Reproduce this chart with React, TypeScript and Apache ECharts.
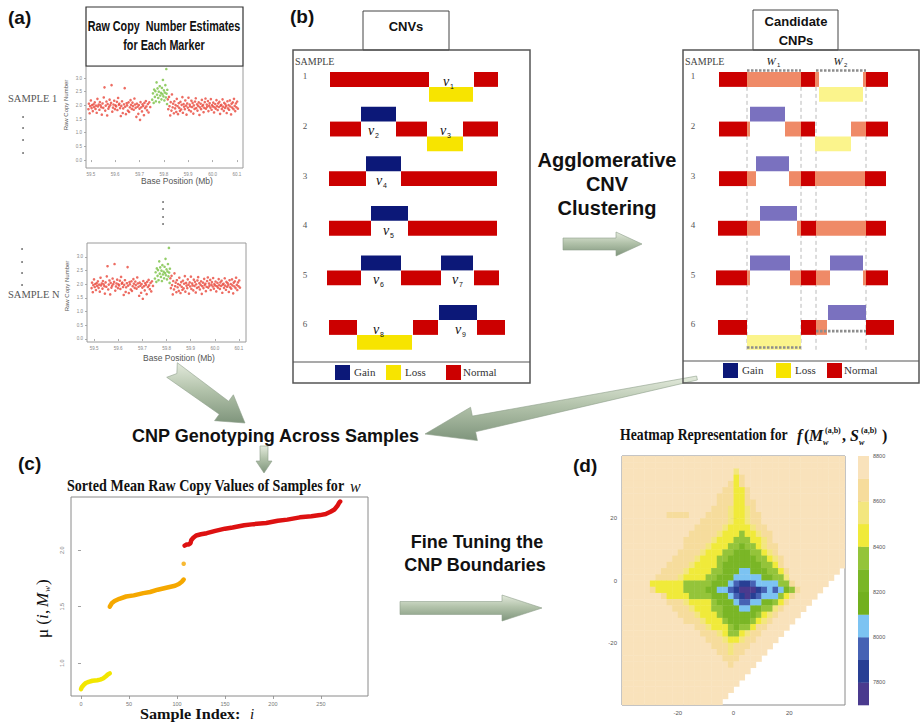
import React, { useEffect, useRef } from "react";
import * as echarts from "echarts";

const SANS = "'Liberation Sans', Arial, sans-serif";
const SERIF = "'Liberation Serif', 'Times New Roman', serif";

// ---------------- (a) raw copy number estimates ----------------
const markerTicksX = [59.5, 59.6, 59.7, 59.8, 59.9, 60.0, 60.1];
const markerTicksY = [0, 0.5, 1.0, 1.5, 2.0, 2.5, 3.0];
const markerNormal = [
  [59.490,1.86],[59.492,2.06],[59.495,1.71],[59.497,1.97],[59.500,2.18],[59.503,1.90],[59.505,2.01],[59.508,1.79],[59.511,2.04],[59.513,1.94],
  [59.516,2.11],[59.519,1.87],[59.521,1.99],[59.524,1.73],[59.527,2.24],[59.529,1.96],[59.532,2.03],[59.535,1.84],[59.537,2.12],[59.540,2.00],
  [59.543,1.93],[59.545,1.66],[59.548,2.07],[59.551,1.91],[59.553,2.29],[59.556,2.66],[59.559,1.81],[59.561,1.99],[59.564,2.14],[59.567,1.63],
  [59.569,2.05],[59.572,1.88],[59.575,1.95],[59.577,2.21],[59.580,2.01],[59.583,2.09],[59.585,2.74],[59.588,1.77],[59.591,1.92],[59.593,2.03],
  [59.596,2.17],[59.599,1.86],[59.601,2.00],[59.604,1.96],[59.607,2.13],[59.609,1.83],[59.612,2.27],[59.615,2.02],[59.617,2.06],[59.620,1.90],
  [59.623,1.61],[59.625,1.98],[59.628,2.15],[59.631,1.72],[59.633,1.89],[59.636,2.04],[59.639,2.63],[59.641,1.95],[59.644,1.68],[59.647,2.08],
  [59.649,2.00],[59.652,1.81],[59.655,2.11],[59.657,1.76],[59.660,1.93],[59.663,2.19],[59.665,2.02],[59.668,1.87],[59.671,2.10],[59.673,1.97],
  [59.676,1.84],[59.679,2.25],[59.681,2.03],[59.684,1.91],[59.687,1.58],[59.689,2.06],[59.692,1.95],[59.695,1.69],[59.697,2.01],[59.700,1.88],
  [59.702,1.47],[59.704,2.12],[59.707,1.93],[59.710,1.78],[59.712,2.04],[59.715,1.98],[59.718,1.64],[59.720,2.09],[59.723,1.90],[59.726,2.16],
  [59.728,1.96],[59.731,1.82],[59.734,2.05],[59.737,1.74],[59.740,2.11],[59.744,1.94],
  [59.816,2.22],[59.818,1.86],[59.821,2.31],[59.823,1.97],[59.826,1.63],[59.828,2.12],[59.831,1.81],[59.833,2.40],[59.836,1.93],[59.838,2.06],
  [59.841,1.71],[59.843,2.15],[59.846,1.89],[59.848,2.01],[59.851,1.76],[59.853,2.24],[59.856,1.97],[59.858,1.68],[59.861,2.08],[59.863,1.91],
  [59.866,1.80],[59.868,2.13],[59.871,1.85],[59.873,2.02],[59.876,2.30],[59.878,1.73],[59.881,2.05],[59.883,1.95],[59.886,1.86],[59.888,2.18],
  [59.891,1.99],[59.893,1.66],[59.896,2.07],[59.898,1.92],[59.901,2.28],[59.903,1.83],[59.906,2.03],[59.908,1.96],[59.911,1.78],[59.913,2.17],
  [59.916,1.94],[59.918,2.09],[59.921,1.70],[59.923,2.00],[59.926,1.87],[59.928,2.14],[59.931,2.26],[59.933,1.90],[59.936,2.04],[59.938,1.81],
  [59.941,1.98],[59.943,2.11],[59.946,1.65],[59.948,1.93],[59.951,2.06],[59.953,1.86],[59.956,2.20],[59.958,1.97],[59.961,2.02],[59.963,1.75],
  [59.966,1.91],[59.968,2.12],[59.971,2.25],[59.973,1.88],[59.976,2.03],[59.978,1.95],[59.981,2.16],[59.983,1.79],[59.986,1.99],[59.988,2.08],
  [59.991,1.92],[59.993,2.23],[59.996,1.84],[59.998,2.01],[60.001,1.96],[60.003,2.10],[60.006,1.74],[60.008,1.93],[60.011,2.05],[60.013,1.88],
  [60.016,2.19],[60.018,1.97],[60.021,1.83],[60.023,2.07],[60.026,1.94],[60.028,2.13],[60.031,1.69],[60.033,1.99],[60.036,2.02],[60.038,1.87],
  [60.041,2.22],[60.043,1.95],[60.046,1.80],[60.048,2.09],[60.051,1.91],[60.053,2.04],[60.056,1.97],[60.058,1.72],[60.061,2.15],[60.063,1.89],
  [60.066,2.01],[60.068,1.84],[60.071,2.18],[60.073,1.96],[60.076,1.67],[60.078,2.06],[60.081,1.92],[60.083,2.11],[60.086,1.86],[60.088,2.24],
  [60.091,1.98],[60.093,1.79],[60.096,2.07],[60.098,1.93],[60.101,2.14],[60.104,1.88],
];
const markerGain = [
  [59.752,2.21],[59.755,2.44],[59.758,2.09],[59.760,2.58],[59.763,2.31],[59.765,2.52],[59.767,2.15],[59.770,2.84],[59.772,2.39],[59.774,2.62],
  [59.777,2.27],[59.779,2.50],[59.781,2.12],[59.783,2.70],[59.785,2.36],[59.788,2.46],[59.790,2.22],[59.792,2.64],[59.794,2.41],[59.796,2.93],
  [59.798,2.33],[59.800,2.55],[59.802,2.18],[59.804,2.47],[59.806,2.74],[59.808,2.29],[59.810,3.33],[59.811,2.43],[59.813,2.05],[59.814,2.57],
];

// ---------------- (b) CNVs and candidate CNPs ----------------
const sampleRows = [1, 2, 3, 4, 5, 6];
const stateKeys = ["N", "G", "L", "C", "g", "l"];
const cnvSegments: [number, number, number, string][] = [
  [1, 1, 100, "N"], [1, 100, 144, "L"], [1, 145, 169, "N"],
  [2, 1, 32, "N"], [2, 32, 67, "G"], [2, 67, 98, "N"], [2, 98, 134, "L"], [2, 134, 169, "N"],
  [3, 0, 37, "N"], [3, 37, 72, "G"], [3, 72, 168, "N"],
  [4, 0, 42, "N"], [4, 42, 79, "G"], [4, 79, 168, "N"],
  [5, -2, 32, "N"], [5, 32, 72, "G"], [5, 72, 112, "N"], [5, 112, 144, "G"], [5, 145, 170, "N"],
  [6, 0, 28, "N"], [6, 28, 83, "L"], [6, 84, 109, "N"], [6, 110, 148, "G"], [6, 148, 176, "N"],
];
const cnvNames = [[1, 118, 1], [2, 43, 2], [2, 115, 3], [3, 51, 4], [4, 58, 5], [5, 48, 6], [5, 127, 7], [6, 48, 8], [6, 130, 9]];
const cnpSegments: [number, number, number, string][] = [
  [1, 1, 29, "N"], [1, 29, 83, "C"], [1, 83, 97, "N"], [1, 97, 101, "C"], [1, 101, 145, "l"], [1, 145, 148, "C"], [1, 148, 170, "N"],
  [2, 1, 29, "N"], [2, 29, 32, "C"], [2, 32, 67, "g"], [2, 67, 83, "C"], [2, 83, 97, "N"], [2, 97, 133, "l"], [2, 133, 148, "C"], [2, 148, 170, "N"],
  [3, 1, 29, "N"], [3, 29, 38, "C"], [3, 38, 71, "g"], [3, 71, 83, "C"], [3, 83, 97, "N"], [3, 97, 147, "C"], [3, 147, 168, "N"],
  [4, 0, 29, "N"], [4, 29, 42, "C"], [4, 42, 79, "g"], [4, 79, 83, "C"], [4, 83, 98, "N"], [4, 98, 148, "C"], [4, 148, 168, "N"],
  [5, -2, 29, "N"], [5, 29, 32, "C"], [5, 32, 72, "g"], [5, 72, 83, "C"], [5, 83, 98, "N"], [5, 98, 112, "C"], [5, 112, 145, "g"], [5, 145, 148, "C"], [5, 148, 170, "N"],
  [6, 0, 29, "N"], [6, 29, 83, "l"], [6, 83, 98, "N"], [6, 98, 109, "C"], [6, 110, 148, "g"], [6, 148, 176, "N"],
];
const cnpWindows = [[29, 83, 1], [98, 148, 2]];
const cnpDashes = [[1, 29, 83, -0.1], [1, 98, 148, -0.1], [6, 29, 83, 1.85], [6, 98, 148, 0.75]];
const legendNames = ["Gain", "Loss", "Normal"];

// ---------------- (c) sorted mean raw copy values ----------------
const sortedYellow = [[0,0.77],[1,0.79],[3,0.81],[5,0.825],[8,0.835],[12,0.845],[17,0.85],[20,0.855],[23,0.865],[26,0.885],[28,0.9],[30,0.91]];
const sortedOrange = [[30,1.5],[32,1.53],[35,1.55],[40,1.57],[47,1.59],[55,1.6],[65,1.62],[72,1.63],[80,1.65],[90,1.67],[98,1.685],[102,1.7],[105,1.72],[107,1.74]];
const sortedOutlier = [[107, 1.88]];
const sortedRed = [[108,2.04],[110,2.05],[112,2.05],[114,2.06],[115,2.09],[117,2.11],[120,2.13],[125,2.14],[131,2.15],[140,2.17],[150,2.19],[158,2.2],[170,2.22],[180,2.23],[193,2.24],[205,2.26],[215,2.27],[228,2.29],[240,2.3],[249,2.31],[255,2.32],[260,2.34],[264,2.36],[267,2.39],[269,2.42],[270,2.43]];
const sampleTicks = [0, 50, 100, 150, 200, 250];
const meanTicks = [1.0, 1.5, 2.0];

// ---------------- (d) heatmap ----------------
const heatTicks = [-20, 0, 20];
const heatBandLows = [7700, 7800, 7900, 8000, 8100, 8200, 8300, 8400, 8500, 8600, 8700];
const heatColors = ["#4a3a8e", "#283f94", "#4662b4", "#7cc3f2", "#72b01e", "#7ab626", "#94c43a", "#f0ea3a", "#f3e67e", "#f6dc9c", "#f9e2bb"];
const colorbarTicks = [7800, 8000, 8200, 8400, 8600, 8800];
// band code per 2x2 cell, rows from y=39 down to y=-39, run-length encoded (code + count)
const heatRows = [
  "a40", "a40", "a20 81 a19", "a20 71 91 a18", "a19 91 71 91 a18", "a18 92 72 91 a17", "a17 93 72 91 a17", "a17 93 72 92 a16",
  "a16 93 81 72 81 91 a16", "a8 94 a3 94 81 72 81 92 a15", "a14 95 81 72 81 92 a15", "a13 95 81 74 81 92 a14",
  "a12 95 81 73 61 72 81 92 a13", "a11 95 81 73 63 72 81 91 a13", "a11 94 81 73 62 51 62 71 81 92 a12",
  "a10 94 81 73 62 53 62 71 81 91 a12", "a9 94 81 73 62 55 62 71 81 91 a11", "a8 94 81 74 61 57 62 71 91 a11",
  "a7 94 81 74 62 53 32 53 62 71 91 a9 .1", "a6 94 81 74 62 53 35 52 62 81 a8 .2",
  "a5 76 65 53 31 21 12 21 34 62 91 a6 .3", "a5 91 75 64 52 32 21 11 03 11 21 31 21 31 51 61 91 a4 .4",
  "a7 91 74 64 53 31 21 11 01 11 21 33 61 71 91 a4 .5", "a8 93 81 74 61 53 31 22 32 52 61 71 91 a4 .6",
  "a9 93 81 73 62 53 32 52 62 81 91 a4 .7", "a10 93 81 73 61 56 61 71 81 91 a4 .8", "a11 93 81 73 61 54 61 71 81 91 a4 .9",
  "a13 92 81 73 61 51 62 71 92 a4 .10", "a14 93 81 71 62 71 81 92 a4 .11", "a15 93 81 72 81 92 a4 .12",
  "a16 93 81 93 a4 .13", "a17 92 81 92 a4 .14", "a18 93 a4 .15", "a19 91 a4 .16",
  "a23 .17", "a22 .18", "a21 .19", "a20 .20", "a19 .21", "a18 .22",
];
const heatX0 = -39, heatY0 = 39, heatStep = 2;

// ---------------- helpers ----------------
const stateColor = ["#cc0000", "#0c1878", "#f7e400", "#ef8a67", "#7a71bf", "#fbf48c"];
const stateLevel = [0, -1, 1, 0, -1, 1];
const legendColor = ["#0c1878", "#f7e400", "#cc0000"];

function txt(text: string, x: number, y: number, o: any = {}) {
  const align = o.align ?? "left";
  const va = o.va ?? "middle";
  return {
    type: "text", x, y, rotation: o.rotation ?? 0, scaleX: o.scaleX ?? 1, z: 100,
    style: {
      text, fill: o.color ?? "#111", fontSize: o.size ?? 12, fontFamily: o.font ?? SANS,
      fontWeight: o.weight ?? "normal", fontStyle: o.italic ? "italic" : "normal",
      align, verticalAlign: va, textAlign: align, textVerticalAlign: va,
    },
  };
}

function arrow(x0: number, y0: number, x1: number, y1: number, tailHalf: number, shaftHalf: number, headHalf: number, headLen: number, notch: number) {
  const dx = x1 - x0, dy = y1 - y0;
  const L = Math.hypot(dx, dy);
  const ux = dx / L, uy = dy / L, nx = -uy, ny = ux;
  const P = (t: number, s: number) => [x0 + ux * t + nx * s, y0 + uy * t + ny * s];
  const hb = L - headLen;
  const pts = [P(0, tailHalf), P(hb, shaftHalf), P(hb, headHalf), P(L, 0), P(hb, -headHalf), P(hb, -shaftHalf), P(0, -tailHalf), P(notch, 0)];
  return {
    type: "polygon", z: 50, shape: { points: pts },
    style: {
      fill: { type: "linear", x: 0, y: 0, x2: 0, y2: 1, colorStops: [
        { offset: 0, color: "#e3eadc" }, { offset: 0.45, color: "#b3c3ab" }, { offset: 1, color: "#7f957c" } ] },
      stroke: "#8fa08b", lineWidth: 0.6,
    },
  };
}

function tickAxis(gridIndex: number, min: number, max: number, ticks: number[], o: any = {}) {
  return {
    type: "value", gridIndex, min, max, position: o.position,
    axisLine: { show: false },
    axisTick: { show: true, customValues: ticks, length: o.tickLen ?? 3, lineStyle: { color: o.tickColor ?? "#888", width: 0.8 } },
    axisLabel: {
      show: o.labels !== false, customValues: ticks, fontSize: o.fontSize ?? 6, color: o.labelColor ?? "#666",
      margin: o.margin ?? 4, rotate: o.rotate ?? 0, fontFamily: SANS, formatter: o.formatter ?? ((v: number) => String(v)),
    },
    splitLine: { show: false },
  };
}

function hiddenAxis(gridIndex: number, min: number, max: number, inverse = false) {
  return { type: "value", gridIndex, min, max, inverse, show: false, splitLine: { show: false } };
}

function segRender(params: any, api: any) {
  const row = api.value(0), s = api.value(1), e = api.value(2), k = api.value(3);
  const a = api.coord([s, row]), b = api.coord([e, row]);
  const h = api.size([0, 0.3])[1];
  return { type: "rect", shape: { x: a[0], y: a[1] + stateLevel[k] * h, width: b[0] - a[0], height: h }, style: { fill: stateColor[k] } };
}

function rowNumRender(offset: number) {
  return (params: any, api: any) => {
    const row = api.value(1);
    const p = api.coord([offset, row]);
    const h = api.size([0, 0.3])[1];
    return { type: "text", x: p[0], y: p[1] + 0.3 * h, style: { text: String(row), fill: "#555", fontSize: 9, fontFamily: SERIF, align: "center", verticalAlign: "middle", textAlign: "center", textVerticalAlign: "middle" } };
  };
}

function nameRender(params: any, api: any) {
  const row = api.value(0), pos = api.value(1), idx = api.value(2);
  const p = api.coord([pos, row]);
  const h = api.size([0, 0.3])[1];
  const y = p[1] + 0.62 * h;
  return {
    type: "group", children: [
      { type: "text", x: p[0] - 1, y, style: { text: "v", fill: "#111", fontSize: 14, fontStyle: "italic", fontFamily: SERIF, align: "center", verticalAlign: "middle", textAlign: "center", textVerticalAlign: "middle" } },
      { type: "text", x: p[0] + 3, y: y + 5, style: { text: String(idx), fill: "#111", fontSize: 7, fontFamily: SANS, align: "left", verticalAlign: "middle", textAlign: "left", textVerticalAlign: "middle" } },
    ],
  };
}

function windowRender(params: any, api: any) {
  const s = api.value(0), e = api.value(1), idx = api.value(2);
  const top = api.coord([s, 1]), bot = api.coord([e, 6]);
  const h = api.size([0, 0.3])[1];
  const lineStyle = { stroke: "#a8a8a8", lineWidth: 0.8, lineDash: [4, 3] };
  const c = (top[0] + bot[0]) / 2;
  return {
    type: "group", children: [
      { type: "line", shape: { x1: top[0], y1: top[1] + h, x2: top[0], y2: bot[1] + 2 * h }, style: lineStyle },
      { type: "line", shape: { x1: bot[0], y1: top[1] + h, x2: bot[0], y2: bot[1] + 2 * h }, style: lineStyle },
      { type: "text", x: c - 3, y: top[1] - 0.75 * h, style: { text: "W", fill: "#222", fontSize: 11, fontStyle: "italic", fontFamily: SERIF, align: "center", verticalAlign: "middle", textAlign: "center", textVerticalAlign: "middle" } },
      { type: "text", x: c + 3, y: top[1] - 0.75 * h + 4, style: { text: String(idx), fill: "#222", fontSize: 6, fontFamily: SANS, align: "left", verticalAlign: "middle", textAlign: "left", textVerticalAlign: "middle" } },
    ],
  };
}

function dashRender(params: any, api: any) {
  const row = api.value(0), s = api.value(1), e = api.value(2), lv = api.value(3);
  const a = api.coord([s, row]), b = api.coord([e, row]);
  const h = api.size([0, 0.3])[1];
  const y = a[1] + lv * h;
  return { type: "line", shape: { x1: a[0], y1: y, x2: b[0], y2: y }, style: { stroke: "#8d8d8d", lineWidth: 2.6, lineDash: [2.5, 1.5] } };
}

function heatRender(params: any, api: any) {
  const x = api.value(0), y = api.value(1), b = api.value(2);
  const p0 = api.coord([x - heatStep / 2, y + heatStep / 2]);
  const p1 = api.coord([x + heatStep / 2, y - heatStep / 2]);
  return { type: "rect", shape: { x: p0[0], y: p0[1], width: p1[0] - p0[0] + 0.4, height: p1[1] - p0[1] + 0.4 }, style: { fill: heatColors[b] } };
}

function barRender(params: any, api: any) {
  const lo = api.value(0), b = api.value(1);
  const p0 = api.coord([0, lo + 100]);
  const p1 = api.coord([1, lo]);
  return { type: "rect", shape: { x: p0[0], y: p0[1], width: p1[0] - p0[0], height: p1[1] - p0[1] + 0.3 }, style: { fill: heatColors[b] } };
}

function buildOption() {
  const heatCells: number[][] = [];
  heatRows.forEach((row, r) => {
    let c = 0;
    row.split(" ").forEach((tok) => {
      const code = tok[0];
      const n = parseInt(tok.slice(1), 10);
      for (let k = 0; k < n; k++, c++) {
        if (code !== ".") heatCells.push([heatX0 + heatStep * c, heatY0 - heatStep * r, code === "a" ? 10 : Number(code)]);
      }
    });
  });
  const segData = (segs: [number, number, number, string][]) => segs.map((s) => [s[0], s[1], s[2], stateKeys.indexOf(s[3])]);
  const fmt1 = (v: number) => v.toFixed(1);

  const graphics: any[] = [];
  // ---- panel (a)
  graphics.push(txt("(a)", 8, 17, { size: 19, weight: "bold" }));
  graphics.push({ type: "rect", z: 60, shape: { x: 86, y: 7, width: 157, height: 59 }, style: { fill: "#fff", stroke: "#333", lineWidth: 1.2 } });
  graphics.push(txt("Raw Copy  Number Estimates", 164, 27, { size: 14, weight: "bold", align: "center", scaleX: 0.77 }));
  graphics.push(txt("for Each Marker", 164, 46, { size: 14, weight: "bold", align: "center", scaleX: 0.77 }));
  graphics.push(txt("SAMPLE 1", 8, 98, { size: 10.5, font: SERIF, color: "#555" }));
  graphics.push(txt("SAMPLE N", 8, 294, { size: 10.5, font: SERIF, color: "#555" }));
  [[23, 117], [23, 128], [23, 140], [23, 153], [163, 202], [163, 209], [163, 217], [163, 224], [22, 249], [22, 262], [22, 273], [22, 285]].forEach(([x, y]) =>
    graphics.push({ type: "circle", z: 60, shape: { cx: x, cy: y, r: 0.9 }, style: { fill: "#666" } }));
  graphics.push(txt("Raw Copy Number", 66, 105, { size: 6, color: "#555", align: "center", rotation: Math.PI / 2 }));
  graphics.push(txt("Raw Copy Number", 67, 286, { size: 6, color: "#555", align: "center", rotation: Math.PI / 2 }));
  graphics.push(txt("Base Position (Mb)", 177, 181, { size: 8.5, color: "#555", align: "center" }));
  graphics.push(txt("Base Position (Mb)", 179, 358, { size: 8.5, color: "#555", align: "center" }));

  // ---- panel (b) left
  graphics.push(txt("(b)", 290, 16, { size: 19, weight: "bold" }));
  graphics.push({ type: "rect", z: 60, shape: { x: 363, y: 11, width: 86, height: 39 }, style: { fill: "none", stroke: "#444", lineWidth: 1 } });
  graphics.push(txt("CNVs", 406, 26, { size: 13, weight: "bold", align: "center" }));
  graphics.push({ type: "rect", z: 60, shape: { x: 293, y: 50, width: 237, height: 333 }, style: { fill: "none", stroke: "#555", lineWidth: 1.5 } });
  graphics.push({ type: "line", z: 60, shape: { x1: 293, y1: 362, x2: 530, y2: 362 }, style: { stroke: "#555", lineWidth: 1.2 } });
  graphics.push(txt("SAMPLE", 295, 61, { size: 10, font: SERIF, color: "#444" }));
  // ---- panel (b) right
  graphics.push({ type: "rect", z: 60, shape: { x: 753, y: 10, width: 85, height: 40 }, style: { fill: "none", stroke: "#444", lineWidth: 1 } });
  graphics.push(txt("Candidate", 796, 21, { size: 13, weight: "bold", align: "center" }));
  graphics.push(txt("CNPs", 796, 40, { size: 13, weight: "bold", align: "center" }));
  graphics.push({ type: "rect", z: 60, shape: { x: 683, y: 50, width: 236, height: 333 }, style: { fill: "none", stroke: "#555", lineWidth: 1.5 } });
  graphics.push({ type: "line", z: 60, shape: { x1: 683, y1: 361, x2: 919, y2: 361 }, style: { stroke: "#555", lineWidth: 1.2 } });
  graphics.push(txt("SAMPLE", 685, 61, { size: 10, font: SERIF, color: "#444" }));
  // legends
  const legendX = [[335, 386, 446], [723, 776, 827]];
  const legendY = [365, 363];
  legendX.forEach((xs, p) => {
    xs.forEach((x, i) => {
      graphics.push({ type: "rect", z: 60, shape: { x, y: legendY[p], width: 15, height: 15 }, style: { fill: legendColor[i] } });
      graphics.push(txt(legendNames[i], x + 19 - (i === 2 ? 2 : 0), legendY[p] + 7, { size: 11, font: SERIF, color: "#333" }));
    });
  });

  // ---- arrows & process texts
  graphics.push(arrow(563, 244, 642, 244, 6, 6, 12, 26, 0));
  graphics.push(txt("Agglomerative", 607, 160, { size: 20, weight: "bold", align: "center" }));
  graphics.push(txt("CNV", 607, 184, { size: 20, weight: "bold", align: "center" }));
  graphics.push(txt("Clustering", 607, 208, { size: 20, weight: "bold", align: "center" }));
  graphics.push(arrow(172, 370, 245, 423, 9, 8, 16, 26, 6));
  graphics.push(arrow(697, 378, 425, 434, 2, 8, 17, 50, 0));
  graphics.push(txt("CNP Genotyping Across Samples", 132, 436, { size: 18, weight: "bold" }));
  graphics.push(arrow(264, 446, 264, 473, 4, 4, 8, 12, 0));
  graphics.push(txt("Fine Tuning the", 477, 542, { size: 18, weight: "bold", align: "center" }));
  graphics.push(txt("CNP Boundaries", 475, 565, { size: 18, weight: "bold", align: "center" }));
  graphics.push(arrow(400, 608, 542, 608, 6.5, 6.5, 13, 40, 0));

  // ---- panel (c)
  graphics.push(txt("(c)", 18, 463, { size: 19, weight: "bold" }));
  graphics.push(txt("Sorted Mean Raw Copy Values of Samples for", 67, 486, { size: 16, weight: "bold", font: SERIF, scaleX: 0.88 }));
  graphics.push(txt("w", 350, 486, { size: 16, font: SERIF, italic: true }));
  graphics.push({
    type: "group", x: 42, y: 604, rotation: Math.PI / 2, z: 100,
    children: [
      txt("\u03bc (", -34, 0, { size: 17, font: SERIF }),
      txt("i", -15, 0, { size: 17, font: SERIF, italic: true }),
      txt(",", -10, 0, { size: 17, font: SERIF }),
      txt("M", -3, 0, { size: 17, font: SERIF, italic: true }),
      txt("w", 12, 5, { size: 9, font: SERIF, italic: true }),
      txt(")", 19, 0, { size: 17, font: SERIF }),
    ],
  });
  graphics.push(txt("Sample Index:", 140, 714, { size: 15, weight: "bold", font: SERIF, scaleX: 1.08 }));
  graphics.push(txt("i", 250, 714, { size: 15, font: SERIF, italic: true }));

  // ---- panel (d)
  graphics.push(txt("(d)", 573, 465, { size: 19, weight: "bold" }));
  graphics.push(txt("Heatmap Representation for", 620, 435, { size: 16, weight: "bold", font: SERIF, scaleX: 0.86 }));
  const fsub = { size: 8, font: SERIF, weight: "bold" };
  graphics.push(txt("f", 797, 435, { size: 16, font: SERIF, italic: true, weight: "bold" }));
  graphics.push(txt("(", 804, 435, { size: 16, font: SERIF, weight: "bold" }));
  graphics.push(txt("M", 809, 435, { size: 16, font: SERIF, italic: true, weight: "bold" }));
  graphics.push(txt("w", 823, 442, { ...fsub, italic: true }));
  graphics.push(txt("(a,b)", 825, 430, fsub));
  graphics.push(txt(",", 842, 435, { size: 16, font: SERIF, weight: "bold" }));
  graphics.push(txt("S", 850, 435, { size: 16, font: SERIF, italic: true, weight: "bold" }));
  graphics.push(txt("w", 859, 442, { ...fsub, italic: true }));
  graphics.push(txt("(a,b)", 861, 430, fsub));
  graphics.push(txt(")", 882, 435, { size: 16, font: SERIF, weight: "bold" }));

  const markerX = (g: number, min: number, max: number) => tickAxis(g, min, max, markerTicksX, { tickLen: 2, fontSize: 4.5, labelColor: "#888", tickColor: "#999", formatter: fmt1 });
  const markerY = (g: number, min: number, max: number) => tickAxis(g, min, max, markerTicksY, { tickLen: 2, fontSize: 4.5, labelColor: "#888", tickColor: "#999", formatter: fmt1 });

  return {
    animation: false,
    backgroundColor: "#fff",
    textStyle: { fontFamily: SANS },
    grid: [
      { left: 86, top: 66, width: 157, height: 102, show: true, borderColor: "#9a9a9a", borderWidth: 1, backgroundColor: "#fff" },
      { left: 87, top: 243, width: 159, height: 99, show: true, borderColor: "#9a9a9a", borderWidth: 1, backgroundColor: "#fff" },
      { left: 293, top: 47.2, width: 237, height: 297.6 },
      { left: 683, top: 47.2, width: 236, height: 297.6 },
      { left: 71, top: 497, width: 297, height: 199, show: true, borderColor: "#8a8a8a", borderWidth: 1 },
      { left: 622, top: 456, width: 223, height: 249, show: true, borderColor: "#8a8a8a", borderWidth: 1 },
      { left: 858, top: 456, width: 11, height: 249 },
    ],
    xAxis: [
      markerX(0, 59.48, 60.125),
      markerX(1, 59.471, 60.129),
      hiddenAxis(2, -36, 201),
      hiddenAxis(3, -35, 201),
      tickAxis(4, -10.4, 299, sampleTicks, { fontSize: 5.5, labelColor: "#777", margin: 5 }),
      tickAxis(5, -40, 40, heatTicks, { position: "bottom", fontSize: 6, labelColor: "#555", margin: 5 }),
      tickAxis(5, -40, 40, heatTicks, { position: "top", labels: false }),
      hiddenAxis(6, 0, 1),
    ],
    yAxis: [
      markerY(0, -0.29, 3.44),
      markerY(1, -0.11, 3.51),
      hiddenAxis(2, 0.5, 6.5, true),
      hiddenAxis(3, 0.5, 6.5, true),
      tickAxis(4, 0.71, 2.47, meanTicks, { fontSize: 5.5, labelColor: "#777", rotate: 90, margin: 6, formatter: fmt1 }),
      tickAxis(5, -40, 40, heatTicks, { position: "left", fontSize: 6, labelColor: "#555", margin: 5 }),
      tickAxis(5, -40, 40, heatTicks, { position: "right", labels: false }),
      tickAxis(6, 7700, 8800, colorbarTicks, { position: "right", fontSize: 5.5, labelColor: "#555", margin: 4 }),
    ],
    series: [
      { type: "scatter", xAxisIndex: 0, yAxisIndex: 0, data: markerNormal, symbolSize: 2.6, itemStyle: { color: "#e8473b" }, silent: true },
      { type: "scatter", xAxisIndex: 0, yAxisIndex: 0, data: markerGain, symbolSize: 2.6, itemStyle: { color: "#79c043" }, silent: true },
      { type: "scatter", xAxisIndex: 1, yAxisIndex: 1, data: markerNormal, symbolSize: 2.6, itemStyle: { color: "#e8473b" }, silent: true },
      { type: "scatter", xAxisIndex: 1, yAxisIndex: 1, data: markerGain, symbolSize: 2.6, itemStyle: { color: "#79c043" }, silent: true },

      { type: "custom", xAxisIndex: 2, yAxisIndex: 2, data: segData(cnvSegments), renderItem: segRender, silent: true },
      { type: "custom", xAxisIndex: 2, yAxisIndex: 2, data: cnvNames, renderItem: nameRender, silent: true },
      { type: "custom", xAxisIndex: 2, yAxisIndex: 2, data: sampleRows.map((r) => [0, r]), renderItem: rowNumRender(-24), silent: true },

      { type: "custom", xAxisIndex: 3, yAxisIndex: 3, data: cnpWindows, renderItem: windowRender, silent: true },
      { type: "custom", xAxisIndex: 3, yAxisIndex: 3, data: segData(cnpSegments), renderItem: segRender, silent: true },
      { type: "custom", xAxisIndex: 3, yAxisIndex: 3, data: cnpDashes, renderItem: dashRender, silent: true },
      { type: "custom", xAxisIndex: 3, yAxisIndex: 3, data: sampleRows.map((r) => [0, r]), renderItem: rowNumRender(-25), silent: true },

      { type: "line", xAxisIndex: 4, yAxisIndex: 4, data: sortedYellow, showSymbol: false, lineStyle: { color: "#f2e600", width: 4.5, cap: "round" }, silent: true },
      { type: "line", xAxisIndex: 4, yAxisIndex: 4, data: sortedOrange, showSymbol: false, lineStyle: { color: "#f5a800", width: 4.5, cap: "round" }, silent: true },
      { type: "line", xAxisIndex: 4, yAxisIndex: 4, data: sortedRed, showSymbol: false, lineStyle: { color: "#dd1111", width: 4.5, cap: "round" }, silent: true },
      { type: "scatter", xAxisIndex: 4, yAxisIndex: 4, data: sortedOutlier, symbolSize: 4.5, itemStyle: { color: "#f5a800" }, silent: true },

      { type: "custom", xAxisIndex: 5, yAxisIndex: 5, data: heatCells, renderItem: heatRender, clip: true, silent: true },
      { type: "custom", xAxisIndex: 7, yAxisIndex: 7, data: heatBandLows.map((v, i) => [v, i]), renderItem: barRender, silent: true },
    ],
    graphic: { elements: graphics },
  };
}

export default function App() {
  const ref = useRef<HTMLDivElement>(null);
  useEffect(() => {
    const chart = echarts.init(ref.current!, null, { renderer: "svg" });
    chart.setOption(buildOption() as any);
    return () => chart.dispose();
  }, []);
  return <div ref={ref} style={{ position: "fixed", left: 0, top: 0, width: 921, height: 722, background: "#fff" }} />;
}
